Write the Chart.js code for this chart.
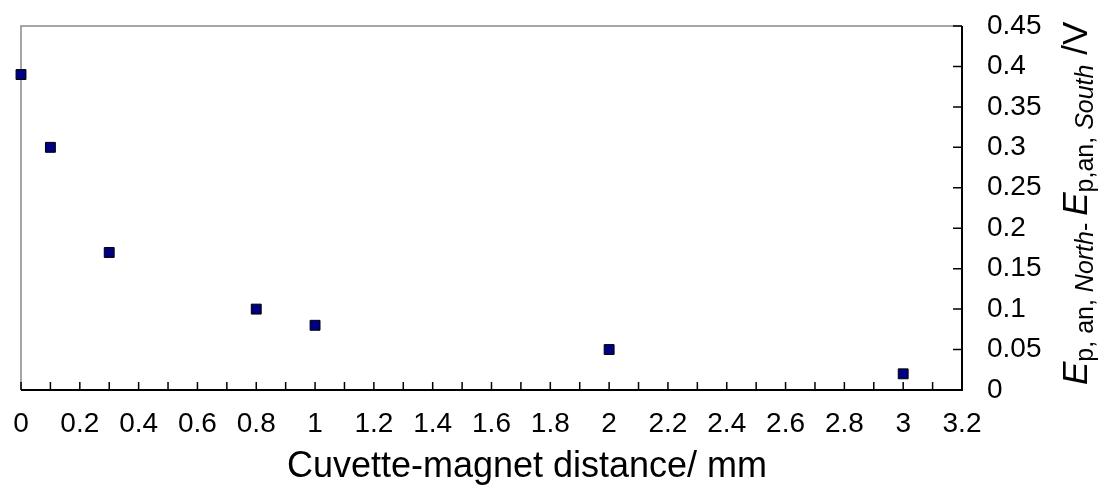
<!DOCTYPE html>
<html>
<head>
<meta charset="utf-8">
<script src="https://cdn.jsdelivr.net/npm/chart.js@4"></script>
<style>
  html, body { margin: 0; padding: 0; background: #fff; }
</style>
</head>
<body>
<canvas id="chart" width="1107" height="491"></canvas>
<script>
// measured points
const distances = [0, 0.1, 0.3, 0.8, 1, 2, 3];
const potentialDiff = [0.39, 0.30, 0.17, 0.10, 0.08, 0.05, 0.02];

const xTickValues = [0, 0.2, 0.4, 0.6, 0.8, 1, 1.2, 1.4, 1.6, 1.8, 2, 2.2, 2.4, 2.6, 2.8, 3, 3.2];
const xMinorValues = [0.1, 0.3, 0.5, 0.7, 0.9, 1.1, 1.3, 1.5, 1.7, 1.9, 2.1, 2.3, 2.5, 2.7, 2.9, 3.1];
const yTickValues = [0, 0.05, 0.1, 0.15, 0.2, 0.25, 0.3, 0.35, 0.4, 0.45];

const xTitle = 'Cuvette-magnet distance/ mm';
// y title pieces: [text, italic, subscript]
const yTitleParts = [
  ['E', true, false],
  ['p, an, ', false, true],
  ['North', true, true],
  ['- ', false, true],
  ['E', true, false],
  ['p,an, ', false, true],
  ['South', true, true],
  [' /V', false, false]
];

const FONT = '"Liberation Sans", Arial, sans-serif';
const fmt = v => String(+Number(v).toFixed(2));

// frame, inside ticks and titles
const framePlugin = {
  id: 'frame',
  beforeDatasetsDraw(chart) {
    const { ctx, chartArea: a, scales: { x, y } } = chart;
    ctx.save();
    ctx.lineWidth = 1.5;
    ctx.strokeStyle = '#888';
    ctx.beginPath();
    ctx.moveTo(a.left, a.bottom);
    ctx.lineTo(a.left, a.top);
    ctx.lineTo(a.right, a.top);
    ctx.stroke();

    ctx.lineWidth = 2;
    ctx.strokeStyle = '#000';
    ctx.beginPath();
    ctx.moveTo(a.left, a.bottom);
    ctx.lineTo(a.right, a.bottom);
    ctx.lineTo(a.right, a.top);
    ctx.stroke();

    ctx.lineWidth = 1.5;
    ctx.beginPath();
    xTickValues.concat(xMinorValues).forEach(v => {
      const px = x.getPixelForValue(v);
      ctx.moveTo(px, a.bottom);
      ctx.lineTo(px, a.bottom - 8);
    });
    yTickValues.forEach(v => {
      const py = y.getPixelForValue(v);
      ctx.moveTo(a.right, py);
      ctx.lineTo(a.right - 9, py);
    });
    ctx.stroke();
    ctx.restore();
  },
  afterDraw(chart) {
    const { ctx } = chart;
    ctx.save();
    ctx.fillStyle = '#000';
    ctx.font = '36px ' + FONT;
    ctx.textAlign = 'center';
    ctx.textBaseline = 'alphabetic';
    ctx.fillText(xTitle, 527, 477);

    // rotated y title, reads bottom to top
    ctx.translate(1087, 385);
    ctx.rotate(-Math.PI / 2);
    ctx.textAlign = 'left';
    let pos = 0;
    yTitleParts.forEach(([t, it, sub]) => {
      const size = sub ? 25 : 35;
      ctx.font = (it ? 'italic ' : '') + size + 'px ' + FONT;
      ctx.fillText(t, pos, sub ? 6 : 0);
      pos += ctx.measureText(t).width;
    });
    ctx.restore();
  }
};

new Chart(document.getElementById('chart'), {
  type: 'scatter',
  data: {
    datasets: [{
      data: distances.map((d, i) => ({ x: d, y: potentialDiff[i] })),
      pointStyle: 'rect',
      pointRadius: 7,
      pointHoverRadius: 7,
      backgroundColor: '#000080',
      borderColor: '#000',
      borderWidth: 1,
      clip: false
    }]
  },
  options: {
    responsive: false,
    animation: false,
    devicePixelRatio: 1,
    layout: { padding: { left: 21, top: 26, right: 0, bottom: 0 } },
    plugins: { legend: { display: false }, tooltip: { enabled: false } },
    scales: {
      x: {
        type: 'linear',
        min: 0,
        max: 3.2,
        afterBuildTicks: s => { s.ticks = xTickValues.map(v => ({ value: v })); },
        afterFit: s => { s.height = 101; s.paddingLeft = 0; s.paddingRight = 0; },
        grid: { display: false, drawTicks: false },
        border: { display: false },
        ticks: {
          autoSkip: false,
          maxRotation: 0,
          padding: 17,
          color: '#000',
          font: { family: FONT, size: 28 },
          callback: fmt
        }
      },
      y: {
        type: 'linear',
        position: 'right',
        min: 0,
        max: 0.45,
        afterBuildTicks: s => { s.ticks = yTickValues.map(v => ({ value: v })); },
        afterFit: s => { s.width = 145; s.paddingTop = 0; s.paddingBottom = 0; },
        grid: { display: false, drawTicks: false },
        border: { display: false },
        ticks: {
          padding: 25,
          color: '#000',
          font: { family: FONT, size: 28 },
          callback: fmt
        }
      }
    }
  },
  plugins: [framePlugin]
});
</script>
</body>
</html>
